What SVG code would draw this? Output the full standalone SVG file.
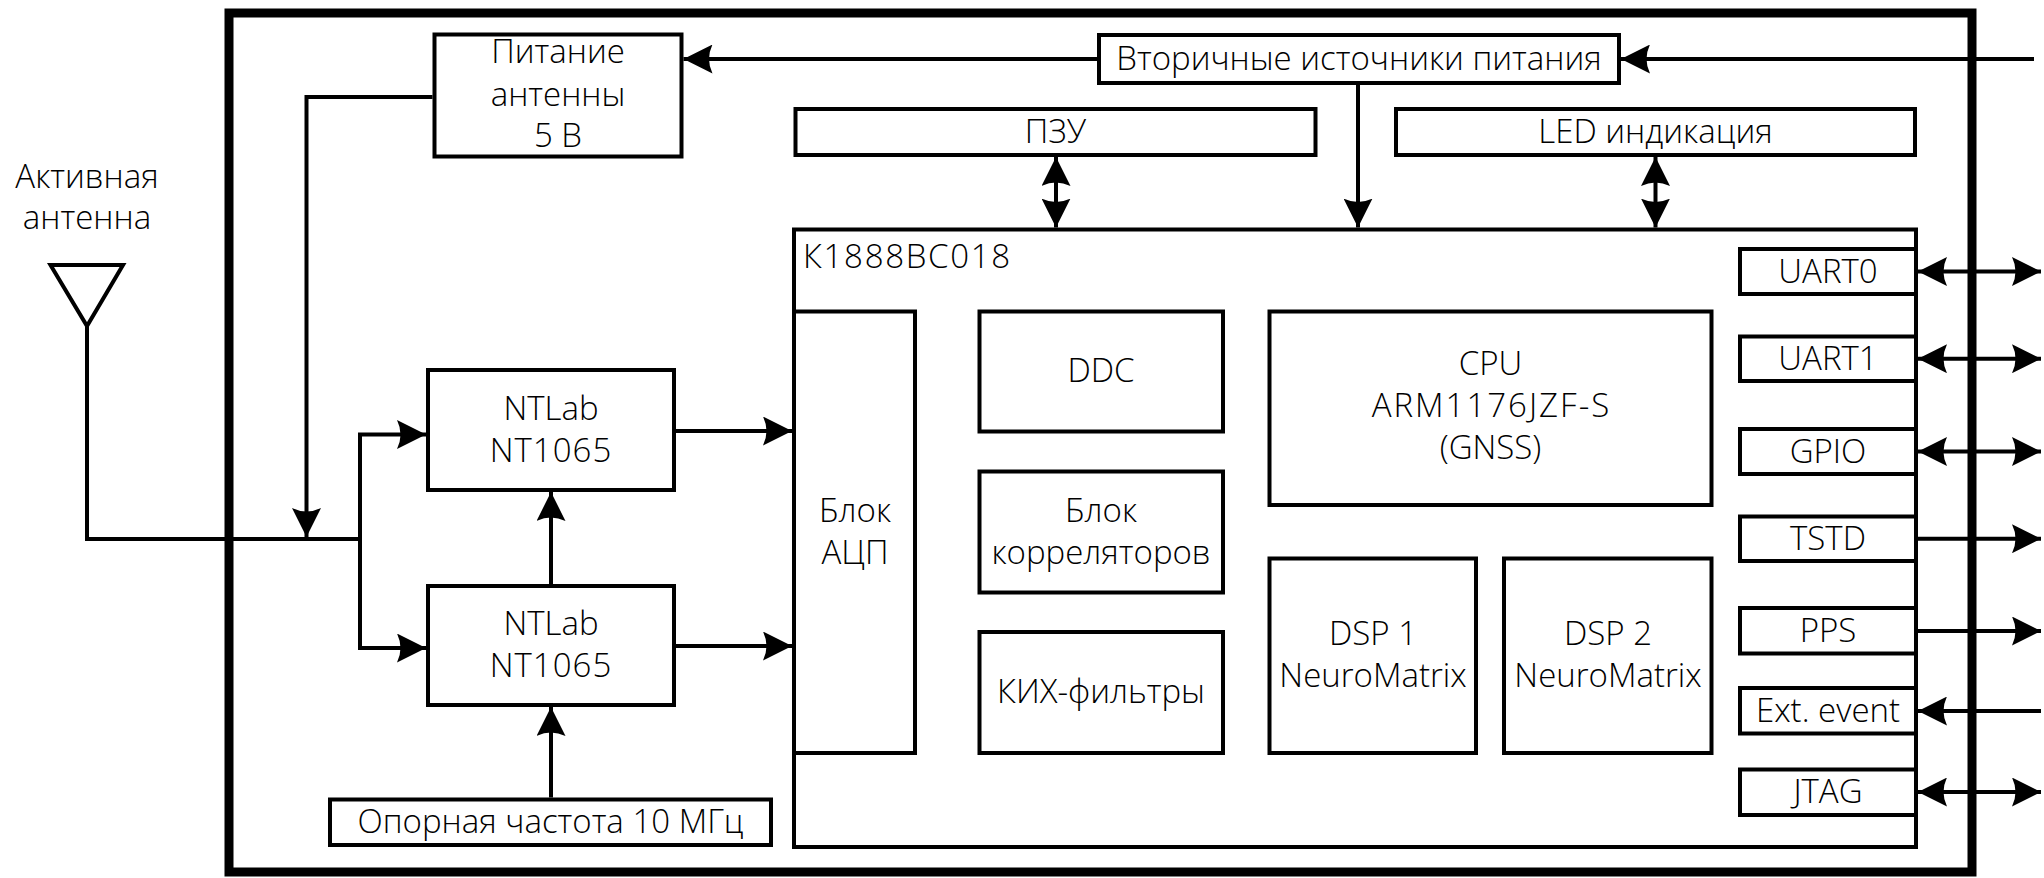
<svg xmlns="http://www.w3.org/2000/svg" width="2044" height="878" viewBox="0 0 2044 878">
<style>
.box{fill:#fff;stroke:#000;stroke-width:4}
.frame{fill:none;stroke:#000;stroke-width:9}
.ln{fill:none;stroke:#000;stroke-width:4}
.a{marker-end:url(#arr)}
.aa{marker-start:url(#arr);marker-end:url(#arr)}
text{font-family:"Open Sans","Noto Sans","DejaVu Sans",sans-serif;font-size:33px;fill:#000;text-anchor:middle;font-weight:300}
.st{text-anchor:start}
</style>
<defs>
<marker id="arr" viewBox="0 0 29 29" refX="29" refY="14.5" markerWidth="29" markerHeight="29" markerUnits="userSpaceOnUse" orient="auto-start-reverse">
<path d="M29,14.5 L0,0 Q7,14.5 0,29 Z" fill="#000"/>
</marker>
</defs>
<rect x="0" y="0" width="2044" height="878" fill="#fff"/>
<rect class="frame" x="229" y="13" width="1743" height="859"/>

<g id="antenna">
<polygon points="50.5,265 123,265 87,326" fill="none" stroke="#000" stroke-width="4" stroke-linejoin="miter"/>
<text x="87" y="188">Активная</text>
<text x="87" y="229">антенна</text>
</g>

<g id="connectors">
<path class="ln a" d="M1097,59 H683.5"/>
<path class="ln a" d="M2034,59 H1621"/>
<path class="ln a" d="M1358,85 V227.5"/>
<path class="ln aa" d="M1056,157 V227.5"/>
<path class="ln aa" d="M1655.5,157 V227.5"/>
<path class="ln a" d="M432.5,97 H306.5 V537"/>
<path class="ln" d="M87,326 V539 H360"/>
<path class="ln aa" d="M426,434.5 H360 V648 H426"/>
<path class="ln a" d="M551,584 V492"/>
<path class="ln a" d="M551,797.5 V707"/>
<path class="ln a" d="M676,431 H792"/>
<path class="ln a" d="M676,646 H792"/>
<path class="ln aa" d="M1918,271.5 H2041"/>
<path class="ln aa" d="M1918,358.7 H2041"/>
<path class="ln aa" d="M1918,451.5 H2041"/>
<path class="ln a" d="M1918,538.7 H2041"/>
<path class="ln a" d="M1918,631 H2041"/>
<path class="ln a" d="M2041,711 H1918"/>
<path class="ln aa" d="M1918,792 H2041"/>
</g>

<g id="power_antenna">
<rect class="box" x="434.5" y="34.5" width="247" height="122"/>
<text x="558" y="63">Питание</text>
<text x="558" y="106">антенны</text>
<text x="558" y="147">5 В</text>
</g>

<g id="secondary_power">
<rect class="box" x="1099" y="35" width="520" height="48"/>
<text x="1359" y="70">Вторичные источники питания</text>
</g>

<g id="rom">
<rect class="box" x="795.5" y="109" width="520" height="46"/>
<text x="1055.5" y="143">ПЗУ</text>
</g>

<g id="led">
<rect class="box" x="1396" y="109" width="519" height="46"/>
<text x="1655.5" y="143">LED индикация</text>
</g>

<g id="ntlab1">
<rect class="box" x="428" y="370" width="246" height="120"/>
<text x="551" y="420">NTLab</text>
<text x="551" y="462" letter-spacing="1">NT1065</text>
</g>

<g id="ntlab2">
<rect class="box" x="428" y="586" width="246" height="119"/>
<text x="551" y="635">NTLab</text>
<text x="551" y="677" letter-spacing="1">NT1065</text>
</g>

<g id="ref_freq">
<rect class="box" x="330" y="799.5" width="441" height="45.5"/>
<text x="550.5" y="833">Опорная частота 10 МГц</text>
</g>

<g id="k1888">
<rect class="box" x="794" y="229.5" width="1122" height="617.5"/>
<text class="st" x="803" y="268" letter-spacing="1.7">К1888ВС018</text>
</g>

<g id="adc">
<rect class="box" x="794" y="311.5" width="121" height="441.5"/>
<text x="855" y="522">Блок</text>
<text x="855" y="564">АЦП</text>
</g>

<g id="ddc">
<rect class="box" x="979.5" y="311.5" width="243.5" height="120"/>
<text x="1101" y="382">DDC</text>
</g>

<g id="correlators">
<rect class="box" x="979.5" y="471.5" width="243.5" height="121"/>
<text x="1101" y="522">Блок</text>
<text x="1101" y="564">корреляторов</text>
</g>

<g id="fir">
<rect class="box" x="979.5" y="632" width="243.5" height="121"/>
<text x="1101" y="703">КИХ-фильтры</text>
</g>

<g id="cpu">
<rect class="box" x="1269.5" y="311.5" width="442" height="193.5"/>
<text x="1490.5" y="375">CPU</text>
<text x="1491.5" y="417" letter-spacing="2">ARM1176JZF-S</text>
<text x="1490.5" y="459">(GNSS)</text>
</g>

<g id="dsp1">
<rect class="box" x="1269.5" y="558.5" width="206.5" height="194.5"/>
<text x="1373" y="645">DSP 1</text>
<text x="1373" y="687">NeuroMatrix</text>
</g>

<g id="dsp2">
<rect class="box" x="1504" y="558.5" width="207.5" height="194.5"/>
<text x="1608" y="645">DSP 2</text>
<text x="1608" y="687">NeuroMatrix</text>
</g>

<g id="uart0">
<rect class="box" x="1740" y="249" width="176" height="45"/>
<text x="1828" y="283">UART0</text>
</g>
<g id="uart1">
<rect class="box" x="1740" y="336.5" width="176" height="44.5"/>
<text x="1828" y="370">UART1</text>
</g>
<g id="gpio">
<rect class="box" x="1740" y="429" width="176" height="45"/>
<text x="1828" y="463">GPIO</text>
</g>
<g id="tstd">
<rect class="box" x="1740" y="516.5" width="176" height="44.5"/>
<text x="1828" y="550">TSTD</text>
</g>
<g id="pps">
<rect class="box" x="1740" y="608" width="176" height="45.5"/>
<text x="1828" y="642">PPS</text>
</g>
<g id="ext_event">
<rect class="box" x="1740" y="688" width="176" height="45.5"/>
<text x="1828" y="722">Ext. event</text>
</g>
<g id="jtag">
<rect class="box" x="1740" y="769.5" width="176" height="45.5"/>
<text x="1828" y="803">JTAG</text>
</g>
</svg>
